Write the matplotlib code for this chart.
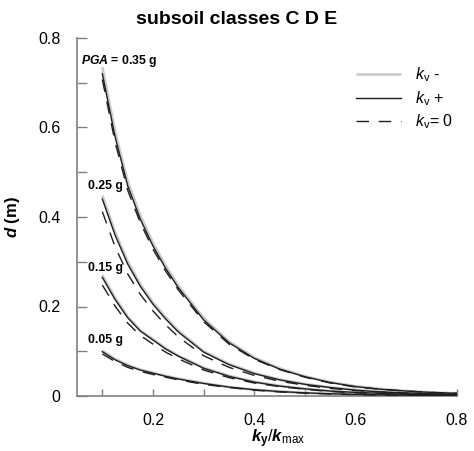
import matplotlib
matplotlib.use("Agg")
import matplotlib.pyplot as plt
import matplotlib.ticker as ticker

plt.rcParams["font.family"] = ["Liberation Sans", "DejaVu Sans"]
plt.rcParams["mathtext.fontset"] = "custom"
plt.rcParams["mathtext.rm"] = "Liberation Sans"
plt.rcParams["mathtext.it"] = "Liberation Sans:italic"
plt.rcParams["mathtext.bf"] = "Liberation Sans:bold"
plt.rcParams["mathtext.bfit"] = "Liberation Sans:bold:italic"

# ky/kmax sample points
ratio = [0.100, 0.125, 0.150, 0.175, 0.200, 0.225, 0.250, 0.300, 0.350,
         0.400, 0.450, 0.500, 0.550, 0.600, 0.650, 0.700, 0.750, 0.800]

# displacement d (m) for each PGA level: kv-, kv+, kv=0
d035_minus = [0.735, 0.592, 0.480, 0.403, 0.342, 0.291, 0.247, 0.174, 0.122,
              0.086, 0.062, 0.044, 0.031, 0.022, 0.016, 0.011, 0.008, 0.006]
d035_plus = [0.720, 0.580, 0.470, 0.395, 0.335, 0.285, 0.242, 0.170, 0.119,
             0.084, 0.060, 0.043, 0.030, 0.021, 0.015, 0.011, 0.008, 0.006]
d035_zero = [0.707, 0.568, 0.460, 0.387, 0.328, 0.279, 0.237, 0.166, 0.116,
             0.082, 0.059, 0.042, 0.029, 0.020, 0.015, 0.011, 0.008, 0.006]

d025_minus = [0.448, 0.367, 0.301, 0.250, 0.209, 0.176, 0.146, 0.100, 0.072,
              0.051, 0.037, 0.027, 0.019, 0.014, 0.010, 0.007, 0.005, 0.004]
d025_plus = [0.440, 0.360, 0.295, 0.245, 0.205, 0.172, 0.143, 0.098, 0.070,
             0.050, 0.036, 0.026, 0.019, 0.013, 0.009, 0.007, 0.005, 0.004]
d025_zero = [0.412, 0.334, 0.273, 0.227, 0.190, 0.159, 0.132, 0.090, 0.064,
             0.046, 0.033, 0.024, 0.017, 0.012, 0.009, 0.006, 0.005, 0.003]

d015_minus = [0.270, 0.220, 0.178, 0.147, 0.127, 0.107, 0.090, 0.063, 0.045,
              0.032, 0.023, 0.016, 0.011, 0.008, 0.006, 0.004, 0.003, 0.002]
d015_plus = [0.265, 0.216, 0.175, 0.145, 0.125, 0.105, 0.089, 0.062, 0.044,
             0.031, 0.022, 0.016, 0.011, 0.008, 0.006, 0.004, 0.003, 0.002]
d015_zero = [0.248, 0.201, 0.163, 0.135, 0.116, 0.098, 0.083, 0.058, 0.041,
             0.029, 0.021, 0.015, 0.010, 0.007, 0.005, 0.004, 0.003, 0.002]

d005_minus = [0.101, 0.083, 0.069, 0.059, 0.052, 0.045, 0.039, 0.029, 0.020,
              0.014, 0.010, 0.007, 0.005, 0.0035, 0.0025, 0.002, 0.0015, 0.001]
d005_plus = [0.099, 0.081, 0.068, 0.058, 0.051, 0.044, 0.038, 0.028, 0.020,
             0.014, 0.010, 0.007, 0.005, 0.0035, 0.0025, 0.002, 0.0015, 0.001]
d005_zero = [0.094, 0.077, 0.064, 0.055, 0.048, 0.042, 0.036, 0.026, 0.019,
             0.013, 0.009, 0.0065, 0.0045, 0.003, 0.0022, 0.0017, 0.0013, 0.0009]

pga_labels = [r"$\mathbfit{PGA}$ = 0.35 g", "0.25 g", "0.15 g", "0.05 g"]
label_pos = [(0.057, 0.748), (0.072, 0.470), (0.072, 0.286), (0.072, 0.126)]

groups = [
    (d035_minus, d035_plus, d035_zero),
    (d025_minus, d025_plus, d025_zero),
    (d015_minus, d015_plus, d015_zero),
    (d005_minus, d005_plus, d005_zero),
]

fig = plt.figure(figsize=(4.74, 4.51), dpi=100)
ax = fig.add_axes([77 / 474, 1 - 396 / 451, 380 / 474, 358 / 451])

axis_grey = "#808080"
for i, (dm, dp, d0) in enumerate(groups):
    ax.plot(ratio, dm, color="#cacaca", lw=1.9, solid_capstyle="butt",
            label=r"$k_{\mathrm{v}}$ -" if i == 0 else None, zorder=2)
    ax.plot(ratio, dp, color="#1e1e1e", lw=1.0,
            label=r"$k_{\mathrm{v}}$ +" if i == 0 else None, zorder=3)
    ax.plot(ratio, d0, color="#1e1e1e", lw=1.0, dashes=(9, 7),
            label=r"$k_{\mathrm{v}}$= $\mathit{0}$" if i == 0 else None, zorder=4)

for txt, (tx, ty) in zip(pga_labels, label_pos):
    ax.text(tx, ty, txt, fontsize=8.8, fontweight="bold", ha="left", va="center")

ax.set_xlim(0.05, 0.8)
ax.set_ylim(0, 0.8)
ax.xaxis.set_major_locator(ticker.FixedLocator([0.2, 0.4, 0.6, 0.8]))
ax.xaxis.set_minor_locator(ticker.FixedLocator([0.1, 0.3, 0.5, 0.7]))
ax.yaxis.set_major_locator(ticker.MultipleLocator(0.2))
ax.yaxis.set_minor_locator(ticker.MultipleLocator(0.1))
ax.xaxis.set_major_formatter(ticker.FuncFormatter(lambda v, _: f"{v:.1f}"))
ax.yaxis.set_major_formatter(
    ticker.FuncFormatter(lambda v, _: "0" if abs(v) < 1e-9 else f"{v:.1f}"))

for side in ("top", "right"):
    ax.spines[side].set_visible(False)
for side in ("left", "bottom"):
    ax.spines[side].set_color(axis_grey)
    ax.spines[side].set_linewidth(1.2)

ax.tick_params(which="both", direction="in", color=axis_grey, width=1.0,
               labelsize=11.5, labelcolor="black")
ax.tick_params(axis="y", which="both", length=7, pad=12)
ax.tick_params(axis="x", which="both", length=5, pad=12)

ax.set_xlabel(r"$\mathbfit{k}_{\mathbf{y}}/\mathbfit{k}_{\mathrm{max}}$",
              fontsize=12)
ax.xaxis.set_label_coords(0.529, -0.088)
ax.set_ylabel(r"$\mathbfit{d}$ (m)", fontsize=12, fontweight="bold")
ax.yaxis.set_label_coords(-0.145, 0.5)

fig.suptitle("subsoil classes C D E", fontsize=14, fontweight="bold",
             x=0.5, y=0.976)

leg = ax.legend(loc="upper left", bbox_to_anchor=(0.714, 0.945),
                frameon=False, fontsize=11.5, handlelength=2.8,
                handletextpad=0.9, labelspacing=0.3, borderpad=0)

fig.savefig("out.png", dpi=100)
